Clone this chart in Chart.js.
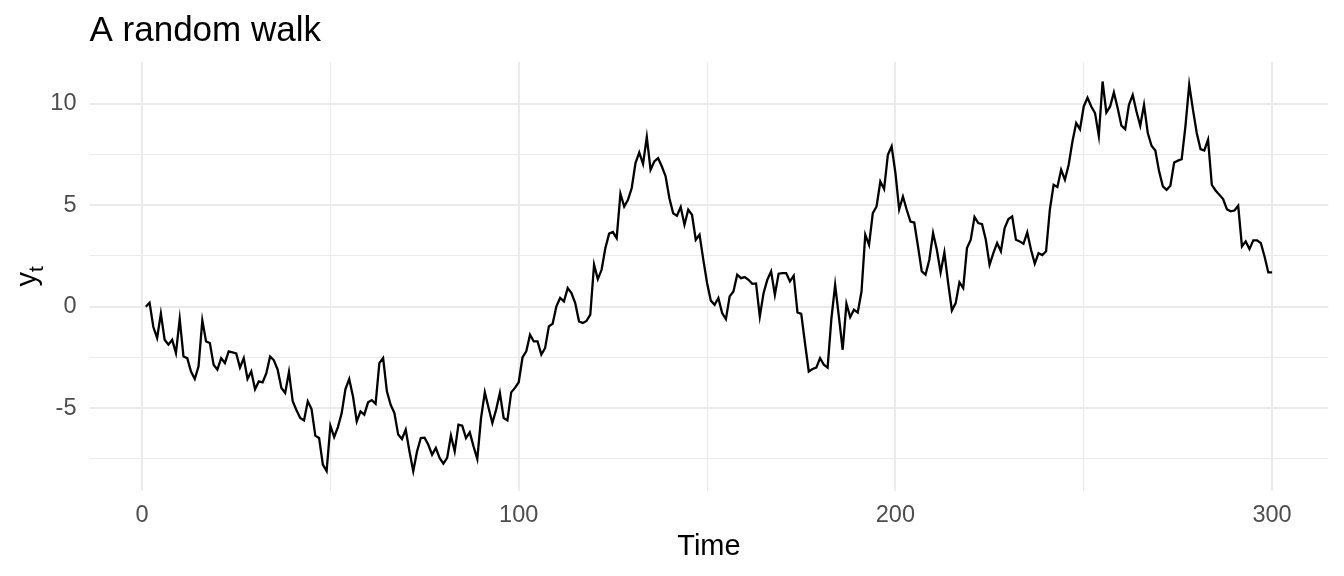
<!DOCTYPE html>
<html>
<head>
<meta charset="utf-8">
<script src="https://cdn.jsdelivr.net/npm/chart.js@4/dist/chart.umd.min.js"></script>
<style>
  html, body { margin: 0; padding: 0; background: #ffffff; }
  #wrap { width: 1344px; height: 576px; position: relative; }
</style>
</head>
<body>
<div id="wrap"><canvas id="c" width="1344" height="576"></canvas></div>
<script>
// ---- data ----
const titleText = "A random walk";
const xTitle = "Time";
const yTitleMain = "y";
const yTitleSub = "t";

const yValues = [
  0, 0.2, -1.0, -1.54, -0.34, -1.63, -1.87, -1.63, -2.28, -0.6,
  -2.45, -2.53, -3.19, -3.56, -2.94, -0.67, -1.71, -1.79, -2.86, -3.1,
  -2.53, -2.77, -2.2, -2.25, -2.3, -3.0, -2.53, -3.56, -3.19, -4.06,
  -3.68, -3.73, -3.27, -2.45, -2.64, -3.1, -4.0, -4.25, -3.22, -4.66,
  -5.1, -5.48, -5.6, -4.66, -5.04, -6.35, -6.47, -7.78, -8.1, -5.86,
  -6.42, -5.93, -5.24, -4.06, -3.56, -4.42, -5.65, -5.16, -5.32, -4.71,
  -4.6, -4.78, -2.78, -2.53, -4.17, -4.83, -5.24, -6.3, -6.52, -6.06,
  -7.13, -8.1, -7.13, -6.47, -6.45, -6.8, -7.29, -6.96, -7.45, -7.73,
  -7.45, -6.35, -7.13, -5.81, -5.86, -6.47, -6.19, -6.88, -7.5, -5.48,
  -4.22, -4.99, -5.73, -5.07, -4.25, -5.48, -5.6, -4.22, -4.0, -3.72,
  -2.5, -2.2, -1.38, -1.71, -1.71, -2.36, -2.04, -0.97, -0.84, 0.02,
  0.43, 0.26, 0.92, 0.67, 0.18, -0.72, -0.8, -0.7, -0.39, 2.07,
  1.36, 1.82, 2.89, 3.6, 3.68, 3.38, 5.57, 4.94, 5.27, 5.85,
  7.08, 7.6, 7.04, 8.36, 6.75, 7.16, 7.32, 6.91, 6.42, 5.35,
  4.61, 4.48, 4.91, 4.04, 4.78, 4.53, 3.3, 3.55, 2.32, 1.17,
  0.3, 0.1, 0.43, -0.31, -0.61, 0.51, 0.75, 1.58, 1.41, 1.46,
  1.33, 1.13, 1.15, -0.48, 0.67, 1.33, 1.74, 0.59, 1.63, 1.66,
  1.66, 1.25, 1.53, -0.28, -0.35, -1.8, -3.19, -3.07, -3.0, -2.53,
  -2.86, -3.0, -0.6, 1.08, -0.5, -2.12, 0.15, -0.51, -0.15, -0.28,
  0.75, 3.55, 3.05, 4.61, 4.94, 6.17, 5.8, 7.49, 7.9, 6.59,
  4.8, 5.43, 4.78, 4.2, 4.15, 2.97, 1.74, 1.58, 2.32, 3.63,
  2.81, 1.69, 2.67, 1.17, -0.18, 0.18, 1.2, 0.92, 2.89, 3.3,
  4.42, 4.12, 4.07, 3.3, 2.07, 2.64, 3.14, 2.73, 3.88, 4.32,
  4.45, 3.3, 3.22, 3.1, 3.66, 2.81, 2.12, 2.64, 2.55, 2.73,
  4.78, 6.01, 5.9, 6.75, 6.26, 7.0, 8.14, 9.05, 8.75, 9.87,
  10.3, 9.87, 9.54, 8.42, 11.1, 9.57, 9.87, 10.56, 9.79, 8.92,
  8.75, 9.95, 10.44, 9.62, 8.92, 9.95, 8.56, 7.93, 7.7, 6.67,
  5.93, 5.76, 5.96, 7.11, 7.2, 7.27, 8.9, 10.94, 9.7, 8.56,
  7.77, 7.7, 8.23, 6.01, 5.73, 5.52, 5.31, 4.81, 4.7, 4.74,
  4.98, 2.97, 3.22, 2.84, 3.27, 3.27, 3.14, 2.48, 1.69, 1.69
];
const timeStart = 1;

const xGridValues = [0, 50, 100, 150, 200, 250, 300];
const xTickLabels = [0, 100, 200, 300];
const yGridValues = [-7.5, -5, -2.5, 0, 2.5, 5, 7.5, 10];
const yTickLabels = [-5, 0, 5, 10];

const xLimits = [-13.95, 314.95];
const yLimits = [-9.06, 12.06];

// ---- build points ----
const points = yValues.map((v, i) => ({ x: timeStart + i, y: v }));

const FONT = '"Liberation Sans", Arial, Helvetica, sans-serif';
const GRID = '#EBEBEB';

const textPlugin = {
  id: 'ggText',
  afterDraw(chart) {
    const ctx = chart.ctx;
    const a = chart.chartArea;
    ctx.save();
    ctx.fillStyle = '#000000';
    // title
    ctx.font = '35px ' + FONT;
    ctx.textAlign = 'left';
    ctx.textBaseline = 'alphabetic';
    ctx.fillText(titleText, a.left, 41);
    // x title
    ctx.font = '29px ' + FONT;
    ctx.textAlign = 'center';
    ctx.textBaseline = 'middle';
    ctx.fillText(xTitle, (a.left + a.right) / 2, 547);
    // y title with subscript
    ctx.translate(34, (a.top + a.bottom) / 2);
    ctx.rotate(-Math.PI / 2);
    ctx.font = '29px ' + FONT;
    const wMain = ctx.measureText(yTitleMain).width;
    ctx.font = '21px ' + FONT;
    const wSub = ctx.measureText(yTitleSub).width;
    const total = wMain + wSub;
    ctx.textAlign = 'left';
    ctx.textBaseline = 'alphabetic';
    ctx.font = '29px ' + FONT;
    ctx.fillText(yTitleMain, -total / 2, 2);
    ctx.font = '21px ' + FONT;
    ctx.fillText(yTitleSub, -total / 2 + wMain, 9);
    ctx.restore();
  }
};

new Chart(document.getElementById('c'), {
  type: 'line',
  data: {
    datasets: [{
      data: points,
      borderColor: '#000000',
      borderWidth: 2.3,
      pointRadius: 0,
      tension: 0,
      fill: false
    }]
  },
  options: {
    responsive: false,
    animation: false,
    devicePixelRatio: 1,
    layout: { padding: { top: 62, left: 0, right: 15.6, bottom: 0 } },
    plugins: {
      legend: { display: false },
      title: { display: false },
      tooltip: { enabled: false }
    },
    scales: {
      x: {
        type: 'linear',
        min: xLimits[0],
        max: xLimits[1],
        afterBuildTicks: s => { s.ticks = xGridValues.map(v => ({ value: v })); },
        afterFit: s => { s.height = 85.4; },
        border: { display: false },
        grid: {
          color: GRID,
          drawTicks: false,
          lineWidth: c => (c.tick && xTickLabels.includes(c.tick.value)) ? 2 : 1.1
        },
        ticks: {
          autoSkip: false,
          maxRotation: 0,
          padding: 11,
          color: '#4D4D4D',
          font: { family: FONT, size: 23.5 },
          callback: v => xTickLabels.includes(v) ? String(v) : ''
        }
      },
      y: {
        type: 'linear',
        min: yLimits[0],
        max: yLimits[1],
        afterBuildTicks: s => { s.ticks = yGridValues.map(v => ({ value: v })); },
        afterFit: s => { s.width = 89.5; },
        border: { display: false },
        grid: {
          color: GRID,
          drawTicks: false,
          lineWidth: c => (c.tick && yTickLabels.includes(c.tick.value)) ? 2 : 1.1
        },
        ticks: {
          autoSkip: false,
          padding: 13,
          color: '#4D4D4D',
          font: { family: FONT, size: 23.5 },
          callback: v => yTickLabels.includes(v) ? String(v) : ''
        }
      }
    }
  },
  plugins: [textPlugin]
});
</script>
</body>
</html>
